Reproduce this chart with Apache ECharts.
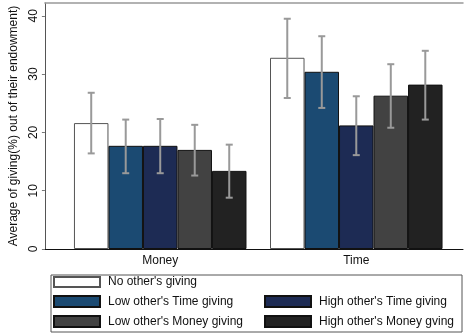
<!DOCTYPE html>
<html>
<head>
<meta charset="utf-8">
<script src="https://cdn.jsdelivr.net/npm/echarts@6/dist/echarts.min.js"></script>
<style>html,body{margin:0;padding:0;background:#fff;}#c{width:464px;height:333px;}</style>
</head>
<body>
<div id="c"></div>
<script>
const categories = ['Money', 'Time'];
const seriesNames = ["No other's giving", "Low other's Time giving", "High other's Time giving", "Low other's Money giving", "High other's Money gving"];
const noOthers = [21.6, 32.8];
const lowTime = [17.7, 30.4];
const highTime = [17.7, 21.2];
const lowMoney = [17.0, 26.3];
const highMoney = [13.4, 28.2];
const noOthersCI = [[16.4, 26.8], [25.9, 39.5]];
const lowTimeCI = [[13.0, 22.2], [24.2, 36.5]];
const highTimeCI = [[13.0, 22.3], [16.1, 26.2]];
const lowMoneyCI = [[12.6, 21.3], [20.8, 31.7]];
const highMoneyCI = [[8.8, 17.9], [22.2, 34.0]];
const yTicks = [0, 10, 20, 30, 40];

const values = [noOthers, lowTime, highTime, lowMoney, highMoney];
const cis = [noOthersCI, lowTimeCI, highTimeCI, lowMoneyCI, highMoneyCI];
const colors = ['#ffffff', '#1b4a72', '#1d2b54', '#424242', '#222222'];
const borders = ['#555555', '#111111', '#111111', '#111111', '#111111'];
const gapRatio = 0.12;
const font = '"Liberation Sans", Arial, sans-serif';

const errData = [];
cis.forEach((s, k) => s.forEach((ci, i) => errData.push([i, ci[0], ci[1], k])));

const bars = values.map((v, k) => ({
  name: seriesNames[k], type: 'bar', xAxisIndex: 2, yAxisIndex: 1,
  data: v, barGap: '0%', barCategoryGap: (gapRatio * 100) + '%',
  itemStyle: { color: colors[k], borderColor: borders[k], borderWidth: 1 },
  emphasis: { disabled: true }, z: 2
}));

const legendText = { fontSize: 12, color: '#111', fontFamily: font, lineHeight: 12, padding: [0, 0, 0, 3] };
const legendBase = { orient: 'vertical', icon: 'rect', itemWidth: 46, itemHeight: 11, itemGap: 7, padding: 0, selectedMode: false, height: 60, textStyle: legendText };

const chart = echarts.init(document.getElementById('c'));
chart.setOption({
  animation: false,
  textStyle: { fontFamily: font },
  grid: [
    { left: 44, right: 1, top: 3, bottom: 84 },
    { left: 62.2, right: 9.7, top: 3, bottom: 84 }
  ],
  xAxis: [
    { type: 'value', gridIndex: 0, position: 'bottom', axisLine: { show: true, onZero: false, lineStyle: { color: '#111', width: 1 } }, axisTick: { show: false }, axisLabel: { show: false }, splitLine: { show: false } },
    { type: 'value', gridIndex: 0, position: 'top', axisLine: { show: true, onZero: false, lineStyle: { color: '#999', width: 1.5 } }, axisTick: { show: false }, axisLabel: { show: false }, splitLine: { show: false } },
    { type: 'category', gridIndex: 1, data: categories, axisLine: { show: false }, axisTick: { show: false }, axisLabel: { color: '#111', fontSize: 12, margin: 6, fontFamily: font } }
  ],
  yAxis: [
    { type: 'value', gridIndex: 0, min: 0, max: 42.2, interval: 10,
      name: 'Average of giving(%) out of their endowment)', nameLocation: 'middle', nameGap: 22, nameRotate: 90,
      nameTextStyle: { color: '#111', fontSize: 12, fontFamily: font },
      axisLine: { show: true, lineStyle: { color: '#555', width: 1 } },
      axisTick: { show: true, length: 3, customValues: yTicks, lineStyle: { color: '#777' } },
      axisLabel: { rotate: 90, color: '#111', fontSize: 12, margin: 5, customValues: yTicks, fontFamily: font },
      splitLine: { show: false } },
    { type: 'value', gridIndex: 1, min: 0, max: 42.2, show: false, splitLine: { show: false } }
  ],
  legend: [
    Object.assign({}, legendBase, { data: [seriesNames[0]], left: 53, top: 276, itemHeight: 10 }),
    Object.assign({}, legendBase, { data: [seriesNames[1], seriesNames[3]], left: 53, top: 295 }),
    Object.assign({}, legendBase, { data: [seriesNames[2], seriesNames[4]], left: 264, top: 295 })
  ],
  graphic: [
    { type: 'rect', left: 48.5, top: 272.5, shape: { width: 411, height: 57 }, style: { fill: 'none', stroke: '#555', lineWidth: 1 }, silent: true }
  ],
  series: bars.concat([{
    type: 'custom', xAxisIndex: 2, yAxisIndex: 1, z: 5, data: errData,
    renderItem: function (params, api) {
      const cat = api.value(0), lo = api.value(1), hi = api.value(2), k = api.value(3);
      const bandW = api.size([1, 0])[0];
      const used = bandW * (1 - gapRatio);
      const barW = used / values.length;
      const top = api.coord([cat, hi]);
      const bot = api.coord([cat, lo]);
      const x = top[0] - used / 2 + barW * (k + 0.5);
      const cap = 3.5;
      const st = { stroke: '#999', lineWidth: 2 };
      return { type: 'group', children: [
        { type: 'line', shape: { x1: x, y1: top[1], x2: x, y2: bot[1] }, style: st },
        { type: 'line', shape: { x1: x - cap, y1: top[1], x2: x + cap, y2: top[1] }, style: st },
        { type: 'line', shape: { x1: x - cap, y1: bot[1], x2: x + cap, y2: bot[1] }, style: st }
      ] };
    }
  }])
});
</script>
</body>
</html>
